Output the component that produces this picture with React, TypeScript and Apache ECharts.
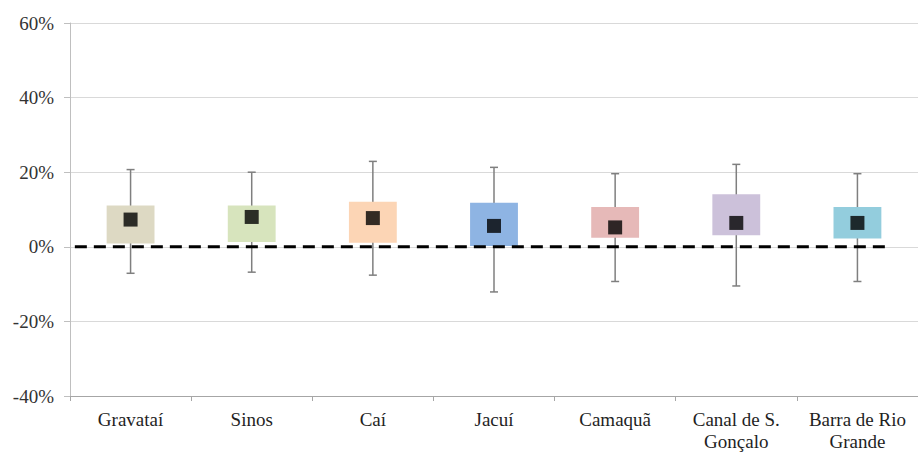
import React, { useEffect, useRef } from "react";
import * as echarts from "echarts";

const categories = [
  "Gravataí",
  "Sinos",
  "Caí",
  "Jacuí",
  "Camaquã",
  "Canal de S.\nGonçalo",
  "Barra de Rio\nGrande",
];
const minValues = [-7.1, -6.8, -7.6, -12.1, -9.3, -10.5, -9.3];
const q1Values = [0.9, 1.3, 1.1, 0.2, 2.4, 3.1, 2.2];
const q3Values = [11.1, 11.1, 12.1, 11.8, 10.7, 14.1, 10.7];
const maxValues = [20.7, 20.0, 22.9, 21.3, 19.6, 22.1, 19.6];
const meanValues = [7.3, 8.0, 7.7, 5.6, 5.2, 6.4, 6.4];
const boxColors = ["#DDD9C3", "#D7E4BD", "#FCD5B5", "#8EB4E3", "#E6B9B8", "#CCC1DA", "#93CDDD"];
const yTicks = { min: -40, max: 60, interval: 20 };

export default function App() {
  const ref = useRef<HTMLDivElement>(null);
  useEffect(() => {
    document.body.style.margin = "0";
    const chart = echarts.init(ref.current!, undefined, { renderer: "svg" });
    const boxData = categories.map((_, i) => [i, minValues[i], q1Values[i], q3Values[i], maxValues[i]]);
    const font = "'Liberation Serif', 'Times New Roman', serif";
    chart.setOption({
      animation: false,
      textStyle: { fontFamily: font },
      grid: { left: 70, top: 23, height: 375, width: 855 },
      xAxis: {
        type: "category",
        data: categories,
        boundaryGap: true,
        axisLine: { onZero: false, lineStyle: { color: "#a6a6a6", width: 1 } },
        axisTick: { show: true, length: 5, lineStyle: { color: "#a6a6a6" } },
        axisLabel: {
          color: "#1f1f1f",
          fontFamily: font,
          fontSize: 19,
          lineHeight: 22,
          margin: 12,
          interval: 0,
        },
        splitLine: { show: false },
      },
      yAxis: {
        type: "value",
        min: yTicks.min,
        max: yTicks.max,
        interval: yTicks.interval,
        axisLine: { show: true, lineStyle: { color: "#bfbfbf", width: 1 } },
        axisTick: { show: true, length: 6, lineStyle: { color: "#bfbfbf" } },
        axisLabel: {
          formatter: "{value}%",
          color: "#333333",
          fontFamily: font,
          fontSize: 19,
          margin: 16,
        },
        splitLine: { lineStyle: { color: "#d9d9d9", width: 1 } },
      },
      series: [
        {
          type: "custom",
          z: 2,
          data: boxData,
          encode: { x: 0, y: [1, 2, 3, 4] },
          renderItem: (params: any, api: any) => {
            const idx = api.value(0);
            const lo = api.coord([idx, api.value(1)]);
            const b1 = api.coord([idx, api.value(2)]);
            const b3 = api.coord([idx, api.value(3)]);
            const hi = api.coord([idx, api.value(4)]);
            const band = api.size([1, 0])[0];
            const bw = band * 0.395;
            const cap = 4;
            const ws = { stroke: "#7f7f7f", lineWidth: 1.5 };
            return {
              type: "group",
              children: [
                { type: "line", shape: { x1: lo[0], y1: lo[1], x2: hi[0], y2: hi[1] }, style: ws },
                { type: "line", shape: { x1: lo[0] - cap, y1: lo[1], x2: lo[0] + cap, y2: lo[1] }, style: ws },
                { type: "line", shape: { x1: hi[0] - cap, y1: hi[1], x2: hi[0] + cap, y2: hi[1] }, style: ws },
                {
                  type: "rect",
                  shape: { x: b3[0] - bw / 2, y: b3[1], width: bw, height: b1[1] - b3[1] },
                  style: { fill: boxColors[params.dataIndex] },
                },
              ],
            };
          },
        },
        {
          type: "custom",
          z: 3,
          data: [[0, 0, categories.length - 1]],
          encode: { x: [0, 2], y: 1 },
          renderItem: (params: any, api: any) => {
            const a = api.coord([api.value(0), api.value(1)]);
            const b = api.coord([api.value(2), api.value(1)]);
            const band = api.size([1, 0])[0];
            return {
              type: "line",
              shape: { x1: a[0] - band * 0.46, y1: a[1], x2: b[0] + band * 0.24, y2: b[1] },
              style: { stroke: "#000", lineWidth: 3, lineDash: [12, 7] },
            };
          },
        },
        {
          type: "scatter",
          z: 4,
          data: meanValues,
          symbol: "rect",
          symbolSize: 14,
          itemStyle: { color: "#000" },
        },
      ],
    });
    return () => chart.dispose();
  }, []);
  return <div ref={ref} style={{ width: 918, height: 452 }} />;
}
